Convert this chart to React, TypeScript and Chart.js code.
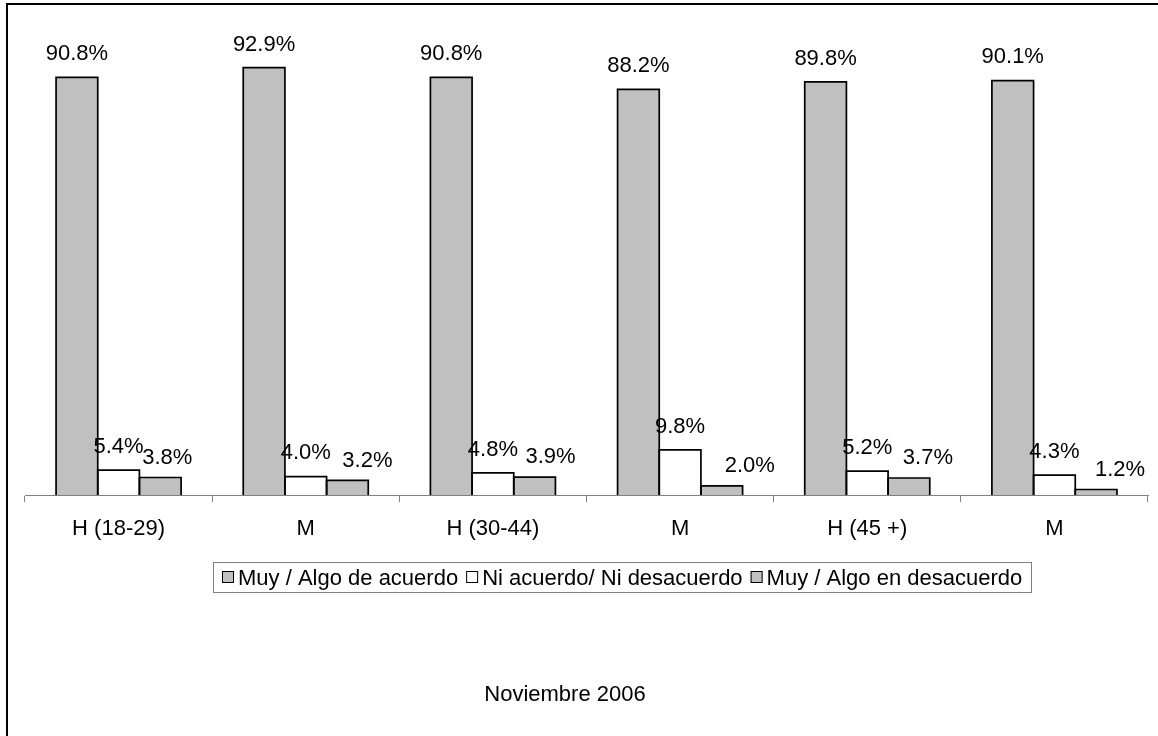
import React, { useEffect, useRef } from "react";
import { Chart, registerables } from "chart.js";

Chart.register(...registerables);

// ---- data ----
const categories = ["H (18-29)", "M", "H (30-44)", "M", "H (45 +)", "M"];
const seriesNames = [
  "Muy / Algo de acuerdo",
  "Ni acuerdo/ Ni desacuerdo",
  "Muy / Algo en desacuerdo",
];
const acuerdo = [90.8, 92.9, 90.8, 88.2, 89.8, 90.1];
const neutral = [5.4, 4.0, 4.8, 9.8, 5.2, 4.3];
const desacuerdo = [3.8, 3.2, 3.9, 2.0, 3.7, 1.2];
const footerText = "Noviembre 2006";

// ---- style ----
const FONT = "'Liberation Sans', Arial, sans-serif";
const FS = 22;
const W = 1158;
const H = 736;
const seriesColors = ["#c0c0c0", "#ffffff", "#c0c0c0"];
// label placement tweaks (style only)
const labelRise = [25, 25, 21.5];
const labelShiftX = [
  [0, 0, 0, 0, 0, 0],
  [0, 0, 0, 0, 0, 0],
  [7, 20, 16, 28, 19, 24],
];

const decorPlugin = {
  id: "decor",
  afterDatasetsDraw(chart: any) {
    const ctx = chart.ctx;
    ctx.save();
    // bar outlines (centered strokes like the original)
    ctx.strokeStyle = "#000";
    ctx.lineWidth = 1.7;
    chart.data.datasets.forEach((_: any, di: number) => {
      const meta = chart.getDatasetMeta(di);
      meta.data.forEach((el: any) => {
        const p = el.getProps(["x", "y", "base", "width"], true);
        const l = p.x - p.width / 2;
        const r = p.x + p.width / 2;
        ctx.beginPath();
        ctx.moveTo(l, p.base);
        ctx.lineTo(l, p.y);
        ctx.lineTo(r, p.y);
        ctx.lineTo(r, p.base);
        ctx.stroke();
      });
    });
    // value labels
    ctx.fillStyle = "#000";
    ctx.font = `${FS}px ${FONT}`;
    ctx.textAlign = "center";
    ctx.textBaseline = "alphabetic";
    chart.data.datasets.forEach((ds: any, di: number) => {
      const meta = chart.getDatasetMeta(di);
      meta.data.forEach((el: any, i: number) => {
        const p = el.getProps(["x", "y"], true);
        const capCenter = p.y - labelRise[di];
        ctx.fillText(
          ds.data[i].toFixed(1) + "%",
          p.x + labelShiftX[di][i],
          capCenter + FS * 0.358
        );
      });
    });
    ctx.restore();
  },
  afterDraw(chart: any) {
    const ctx = chart.ctx;
    ctx.save();
    // outer frame (left + top visible)
    ctx.strokeStyle = "#000";
    ctx.lineWidth = 2;
    ctx.beginPath();
    ctx.moveTo(7, H + 2);
    ctx.lineTo(7, 4);
    ctx.lineTo(W + 2, 4);
    ctx.stroke();

    // legend
    ctx.font = `${FS}px ${FONT}`;
    const lgLeft = 213;
    const lgRight = 1031;
    const lgTop = 562;
    const lgBottom = 592;
    ctx.lineWidth = 1;
    ctx.strokeStyle = "#808080";
    ctx.strokeRect(lgLeft + 0.5, lgTop + 0.5, lgRight - lgLeft, lgBottom - lgTop);
    const cy = (lgTop + lgBottom) / 2;
    const box = 12;
    let x = lgLeft + 9;
    ctx.textAlign = "left";
    ctx.textBaseline = "alphabetic";
    seriesNames.forEach((name, i) => {
      ctx.fillStyle = seriesColors[i];
      ctx.fillRect(x, cy - box / 2, box, box);
      ctx.strokeStyle = "#000";
      ctx.lineWidth = 1;
      ctx.strokeRect(x + 0.5, cy - box / 2 + 0.5, box - 1, box - 1);
      x += box + 4;
      ctx.fillStyle = "#000";
      ctx.fillText(name, x, cy + FS * 0.358);
      x += ctx.measureText(name).width + 8;
    });

    // footer
    ctx.textAlign = "center";
    ctx.fillText(footerText, 565, 693 + FS * 0.358);
    ctx.restore();
  },
};

export default function App() {
  const ref = useRef<HTMLCanvasElement | null>(null);
  useEffect(() => {
    if (!ref.current) return;
    const chart = new Chart(ref.current, {
      type: "bar",
      data: {
        labels: categories,
        datasets: [acuerdo, neutral, desacuerdo].map((d, i) => ({
          label: seriesNames[i],
          data: d,
          backgroundColor: seriesColors[i],
          borderWidth: 0,
          barPercentage: 1,
          categoryPercentage: 0.668,
        })),
      },
      options: {
        responsive: false,
        animation: false,
        devicePixelRatio: 1,
        layout: { padding: { left: 25, right: 10, top: 35, bottom: 0 } },
        plugins: {
          legend: { display: false },
          tooltip: { enabled: false },
          title: { display: false },
        },
        scales: {
          y: { display: false, min: 0, max: 100 },
          x: {
            grid: {
              display: true,
              drawOnChartArea: false,
              drawTicks: true,
              tickLength: 7,
              color: "#808080",
              offset: true,
              lineWidth: 1,
            },
            border: { display: true, color: "#808080", width: 1 },
            ticks: {
              color: "#000",
              font: { family: FONT, size: FS },
              padding: 14,
              maxRotation: 0,
              autoSkip: false,
            },
            afterFit: (s: any) => {
              s.height = H - 495;
            },
          },
        },
      },
      plugins: [decorPlugin],
    });
    return () => chart.destroy();
  }, []);
  return (
    <canvas
      ref={ref}
      width={W}
      height={H}
      style={{ position: "absolute", left: 0, top: 0, display: "block", background: "#fff" }}
    />
  );
}
